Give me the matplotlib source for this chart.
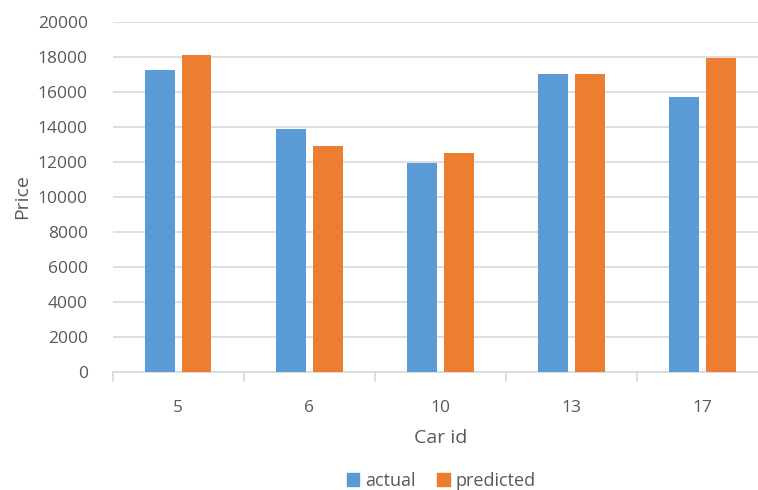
import matplotlib
matplotlib.use("Agg")
import matplotlib.pyplot as plt
import numpy as np
from matplotlib.patches import Patch

categories = ["5", "6", "10", "13", "17"]
actual = [17250, 13870, 11950, 17000, 15700]
predicted = [18130, 12900, 12530, 17000, 17960]
yticks = [0, 2000, 4000, 6000, 8000, 10000, 12000, 14000, 16000, 18000, 20000]

blue = "#5b9bd5"
orange = "#ed7d31"
txt = "#595959"
grid = "#d9d9d9"

plt.rcParams['font.family'] = ['Open Sans', 'DejaVu Sans']

fig = plt.figure(figsize=(7.58, 4.90), dpi=100)
ax = fig.add_axes([112.7/758, 1-372/490, 655.5/758, 350/490])

x = np.arange(len(categories))
w = 0.227
off = 0.14
ax.bar(x - off, actual, width=w, color=blue, zorder=3)
ax.bar(x + off, predicted, width=w, color=orange, zorder=3)

ax.set_xlim(-0.5, len(categories) - 0.5)
ax.set_ylim(0, 20000)
ax.set_yticks(yticks)
ax.set_yticklabels([str(v) for v in yticks])
ax.grid(axis='y', color=grid, linewidth=1.2, zorder=0)
ax.set_axisbelow(True)

for s in ['top', 'right', 'left']:
    ax.spines[s].set_visible(False)
ax.spines['bottom'].set_color(grid)
ax.spines['bottom'].set_linewidth(1.2)

ax.set_xticks(x)
ax.set_xticklabels(categories)
ax.set_xticks(np.arange(-0.5, len(categories), 1.0), minor=True)
ax.tick_params(axis='x', which='major', length=0, pad=20, labelsize=12.5, labelcolor=txt)
ax.tick_params(axis='x', which='minor', length=7, color=grid, width=1.2)
ax.tick_params(axis='y', length=0, pad=18, labelsize=12.5, labelcolor=txt)

fig.text(22/758, 1-197/490, "Price", rotation=90, ha='center', va='center', fontsize=14, color=txt)
fig.text(441/758, 1-438/490, "Car id", ha='center', va='center', fontsize=14, color=txt)

handles = [Patch(color=blue, label='actual'), Patch(color=orange, label='predicted')]
leg = fig.legend(handles=handles, loc='center', bbox_to_anchor=(441/758, 1-481/490), ncol=2,
                 frameon=False, fontsize=13, handlelength=0.7, handleheight=0.7,
                 handletextpad=0.3, columnspacing=1.2, labelcolor=txt)

fig.savefig("out.png", dpi=100)
